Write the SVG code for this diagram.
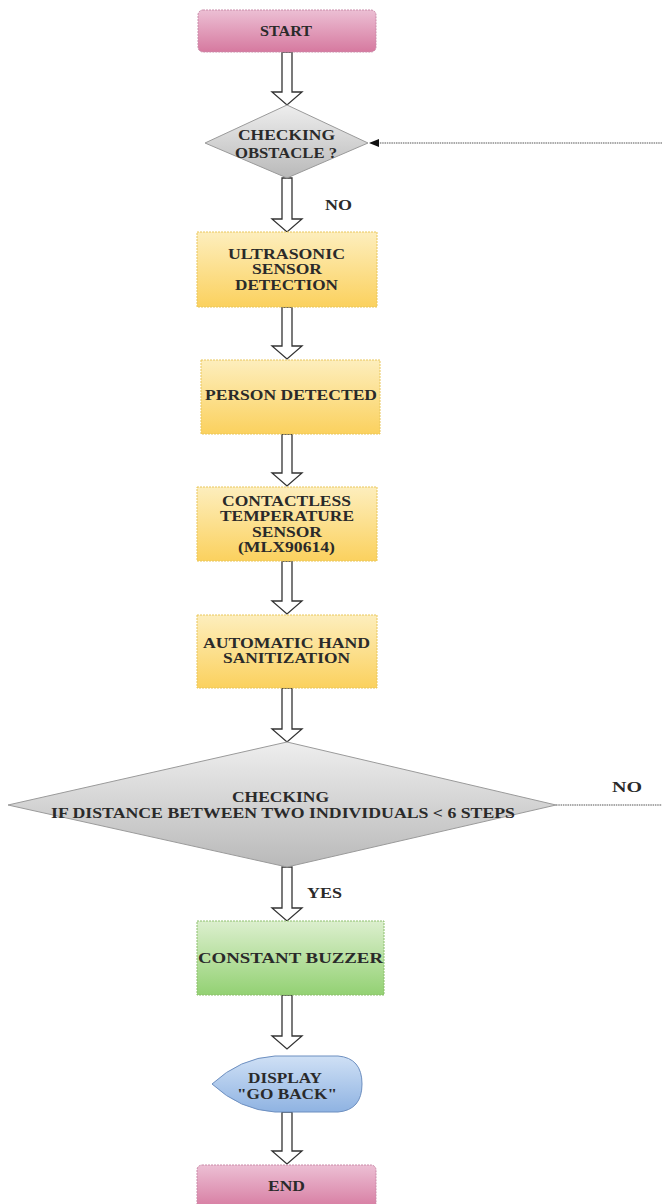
<svg xmlns="http://www.w3.org/2000/svg" width="662" height="1204" viewBox="0 0 662 1204">
<defs>
<linearGradient id="gPink" x1="0" y1="0" x2="0" y2="1"><stop offset="0" stop-color="#ecbfd4"/><stop offset="1" stop-color="#d6799f"/></linearGradient>
<linearGradient id="gYel" x1="0" y1="0" x2="0" y2="1"><stop offset="0" stop-color="#fdeebd"/><stop offset="1" stop-color="#fbd15e"/></linearGradient>
<linearGradient id="gGreen" x1="0" y1="0" x2="0" y2="1"><stop offset="0" stop-color="#dcefce"/><stop offset="1" stop-color="#93d173"/></linearGradient>
<linearGradient id="gGray" x1="0" y1="0" x2="0" y2="1"><stop offset="0" stop-color="#eeeeee"/><stop offset="1" stop-color="#b9b9b9"/></linearGradient>
<linearGradient id="gBlue" x1="0" y1="0" x2="0" y2="1"><stop offset="0" stop-color="#cfe0f5"/><stop offset="1" stop-color="#8fb3e2"/></linearGradient>
<marker id="ah" markerWidth="10" markerHeight="8" refX="9" refY="4" orient="auto" markerUnits="userSpaceOnUse"><path d="M0,0 L10,4 L0,8 Z" fill="#111"/></marker>
<style>
.t{font-family:"Liberation Serif","DejaVu Serif","Times New Roman",serif;font-weight:bold;font-size:15px;fill:#2a2a2a;text-anchor:middle;dominant-baseline:central}
.l{font-family:"Liberation Serif","DejaVu Serif","Times New Roman",serif;font-weight:bold;font-size:14px;fill:#2a2a2a;dominant-baseline:central}
.pink{fill:url(#gPink);stroke:#c98aa8;stroke-width:1;stroke-dasharray:2 1}
.yel{fill:url(#gYel);stroke:#e9c65a;stroke-width:1;stroke-dasharray:2 1}
.grn{fill:url(#gGreen);stroke:#8cbf6c;stroke-width:1;stroke-dasharray:2 1}
.dia{fill:url(#gGray);stroke:#9a9a9a;stroke-width:1}
.blu{fill:url(#gBlue);stroke:#6d8fc0;stroke-width:1}
.ba{fill:#ffffff;stroke:#333;stroke-width:1.3;stroke-linejoin:miter}
.ln{stroke:#555;stroke-width:1.2;fill:none;stroke-dasharray:1.5 0.8}
</style>
</defs>
<g id="connectors">
<path class="ba" d="M282,52 V92 H272 L287,105 L302,92 H292 V52 Z"/>
<path class="ba" d="M282,178 V219 H272 L287,232 L302,219 H292 V178 Z"/>
<path class="ba" d="M282,307 V346 H272 L287,359 L302,346 H292 V307 Z"/>
<path class="ba" d="M282,434 V473 H272 L287,486 L302,473 H292 V434 Z"/>
<path class="ba" d="M282,561 V601 H272 L287,614 L302,601 H292 V561 Z"/>
<path class="ba" d="M282,688 V729 H272 L287,742 L302,729 H292 V688 Z"/>
<path class="ba" d="M282,867 V908 H272 L287,921 L302,908 H292 V867 Z"/>
<path class="ba" d="M282,995 V1036 H272 L287,1049 L302,1036 H292 V995 Z"/>
<path class="ba" d="M282,1112 V1151 H272 L287,1164 L302,1151 H292 V1112 Z"/>
<line class="ln" x1="662" y1="143" x2="370" y2="143" marker-end="url(#ah)"/>
<line class="ln" x1="556" y1="805" x2="662" y2="805"/>
<text class="l" x="325" y="205" textLength="27" lengthAdjust="spacingAndGlyphs">NO</text>
<text class="l" x="612" y="787" textLength="30" lengthAdjust="spacingAndGlyphs">NO</text>
<text class="l" x="307" y="893" textLength="35" lengthAdjust="spacingAndGlyphs">YES</text>
</g>
<g id="start"><rect class="pink" x="198" y="10" width="178" height="42" rx="5"/><text class="t" x="286" y="31" textLength="52" lengthAdjust="spacingAndGlyphs">START</text></g>
<g id="checkObstacle"><polygon class="dia" points="287,105 368,143 287,178 205,143"/><text class="t" x="286.5" y="135" textLength="97" lengthAdjust="spacingAndGlyphs">CHECKING</text><text class="t" x="286" y="153" textLength="102" lengthAdjust="spacingAndGlyphs">OBSTACLE ?</text></g>
<g id="ultrasonic"><rect class="yel" x="197" y="232" width="180" height="75"/><text class="t" x="286.5" y="254" textLength="117" lengthAdjust="spacingAndGlyphs">ULTRASONIC</text><text class="t" x="287" y="269" textLength="70" lengthAdjust="spacingAndGlyphs">SENSOR</text><text class="t" x="286.5" y="285" textLength="103" lengthAdjust="spacingAndGlyphs">DETECTION</text></g>
<g id="person"><rect class="yel" x="201" y="360" width="179" height="74"/><text class="t" x="291" y="395" textLength="172" lengthAdjust="spacingAndGlyphs">PERSON DETECTED</text></g>
<g id="contactless"><rect class="yel" x="197" y="487" width="180" height="74"/><text class="t" x="286.5" y="501" textLength="129" lengthAdjust="spacingAndGlyphs">CONTACTLESS</text><text class="t" x="287" y="516" textLength="134" lengthAdjust="spacingAndGlyphs">TEMPERATURE</text><text class="t" x="287" y="532" textLength="70" lengthAdjust="spacingAndGlyphs">SENSOR</text><text class="t" x="286.5" y="547" textLength="97" lengthAdjust="spacingAndGlyphs">(MLX90614)</text></g>
<g id="sanitize"><rect class="yel" x="197" y="615" width="180" height="73"/><text class="t" x="286.5" y="643" textLength="167" lengthAdjust="spacingAndGlyphs">AUTOMATIC HAND</text><text class="t" x="286.5" y="658" textLength="127" lengthAdjust="spacingAndGlyphs">SANITIZATION</text></g>
<g id="distance"><polygon class="dia" points="287,742 556,805 287,867 8,805"/><text class="t" x="280.5" y="797" textLength="97" lengthAdjust="spacingAndGlyphs">CHECKING</text><text class="t" x="283" y="813" textLength="464" lengthAdjust="spacingAndGlyphs">IF DISTANCE BETWEEN TWO INDIVIDUALS &lt; 6 STEPS</text></g>
<g id="buzzer"><rect class="grn" x="197" y="921" width="187" height="74"/><text class="t" x="290.5" y="958" textLength="185" lengthAdjust="spacingAndGlyphs">CONSTANT BUZZER</text></g>
<g id="display"><path class="blu" d="M212,1084 Q240,1058 275,1056 L338,1056 Q362,1058 362,1084 Q362,1110 338,1112 L275,1112 Q240,1110 212,1084 Z"/><text class="t" x="285" y="1078" textLength="74" lengthAdjust="spacingAndGlyphs">DISPLAY</text><text class="t" x="287" y="1094" textLength="100" lengthAdjust="spacingAndGlyphs">"GO BACK"</text></g>
<g id="end"><rect class="pink" x="197" y="1165" width="179" height="45" rx="5"/><text class="t" x="286.5" y="1186" textLength="37" lengthAdjust="spacingAndGlyphs">END</text></g>
</svg>
